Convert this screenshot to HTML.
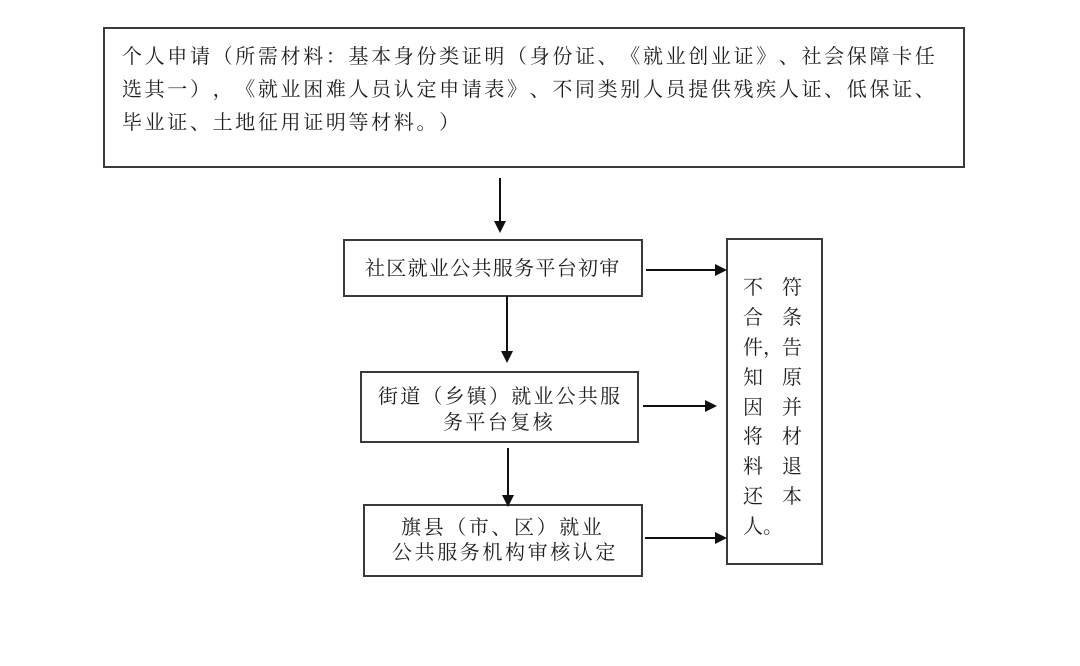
<!DOCTYPE html>
<html><head><meta charset="utf-8">
<style>
html,body{margin:0;padding:0;background:#fff;}
#c{position:relative;width:1080px;height:666px;overflow:hidden;background:#fff;}
.t{position:absolute;white-space:nowrap;font-family:"Liberation Serif","Noto Serif CJK SC",serif;font-size:20px;line-height:24px;height:24px;color:#1e1e1e;text-spacing-trim:space-all;font-kerning:none;font-feature-settings:"palt" 0,"halt" 0;}
svg{position:absolute;left:0;top:0;}
</style></head><body>
<div id="c">
<svg width="1080" height="666" viewBox="0 0 1080 666">
 <g fill="none" stroke="#3a3a3a" stroke-width="2">
  <rect x="104" y="28" width="860" height="139"/>
  <rect x="344" y="240" width="298" height="56"/>
  <rect x="361" y="372" width="277" height="70"/>
  <rect x="364" y="505" width="278" height="71"/>
  <rect x="727" y="239" width="95" height="325"/>
 </g>
 <g stroke="#111" stroke-width="2">
  <line x1="500" y1="178" x2="500" y2="222"/>
  <line x1="507" y1="296" x2="507" y2="352"/>
  <line x1="508" y1="448" x2="508" y2="495"/>
  <line x1="646" y1="270" x2="715" y2="270"/>
  <line x1="643" y1="406" x2="705" y2="406"/>
  <line x1="645" y1="538" x2="715" y2="538"/>
 </g>
 <g fill="#111">
  <polygon points="494,221 506,221 500,233"/>
  <polygon points="501,351 513,351 507,363"/>
  <polygon points="502,495 514,495 508,507"/>
  <polygon points="715,264 715,276 727,270"/>
  <polygon points="705,400 705,412 717,406"/>
  <polygon points="715,532 715,544 727,538"/>
 </g>
</svg>

<div class="t" style="left:122px;top:45px;letter-spacing:2.65px;">个人申请（所需材料：基本身份类证明（身份证、《就业创业证》、社会保障卡任</div>
<div class="t" style="left:122px;top:78px;letter-spacing:2.65px;">选其一），《就业困难人员认定申请表》、不同类别人员提供残疾人证、低保证、</div>
<div class="t" style="left:122px;top:111px;letter-spacing:2.65px;">毕业证、土地征用证明等材料。）</div>

<div class="t" style="left:365px;top:257px;letter-spacing:1.3px;">社区就业公共服务平台初审</div>

<div class="t" style="left:378px;top:385px;letter-spacing:2.2px;">街道（乡镇）就业公共服</div>
<div class="t" style="left:443px;top:411px;letter-spacing:2.4px;">务平台复核</div>

<div class="t" style="left:401px;top:516px;letter-spacing:2.6px;">旗县（市、区）就业</div>
<div class="t" style="left:392px;top:541px;letter-spacing:2.6px;">公共服务机构审核认定</div>

<div class="t" style="left:743px;top:276px;">不</div><div class="t" style="left:782px;top:276px;">符</div>
<div class="t" style="left:743px;top:306px;">合</div><div class="t" style="left:782px;top:306px;">条</div>
<div class="t" style="left:743px;top:336px;">件，</div><div class="t" style="left:782px;top:336px;">告</div>
<div class="t" style="left:743px;top:366px;">知</div><div class="t" style="left:782px;top:366px;">原</div>
<div class="t" style="left:743px;top:396px;">因</div><div class="t" style="left:782px;top:396px;">并</div>
<div class="t" style="left:743px;top:425px;">将</div><div class="t" style="left:782px;top:425px;">材</div>
<div class="t" style="left:743px;top:455px;">料</div><div class="t" style="left:782px;top:455px;">退</div>
<div class="t" style="left:743px;top:485px;">还</div><div class="t" style="left:782px;top:485px;">本</div>
<div class="t" style="left:743px;top:515px;">人。</div>
</div>
</body></html>
